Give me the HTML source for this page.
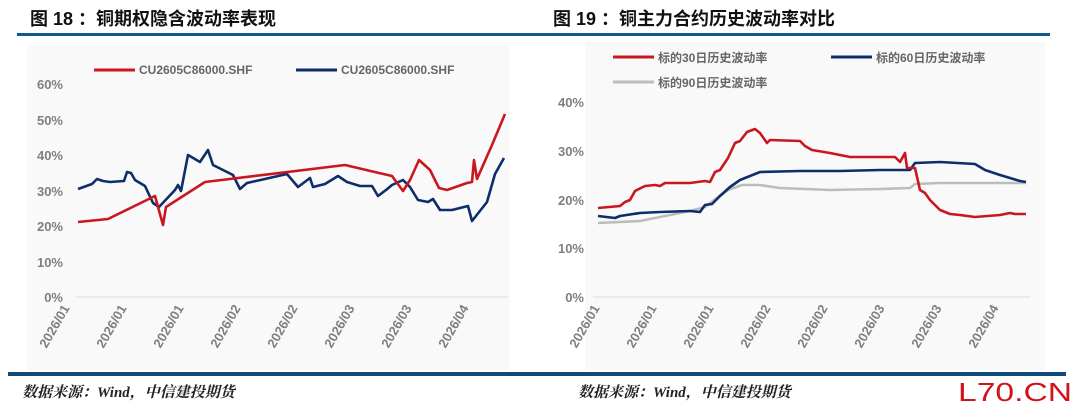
<!DOCTYPE html><html><head><meta charset="utf-8"><style>
body{margin:0;width:1080px;height:411px;background:#fff;overflow:hidden;font-family:"Liberation Sans","Noto Sans CJK SC",sans-serif}
</style></head><body>
<svg width="1080" height="411" xmlns="http://www.w3.org/2000/svg" font-family="Liberation Sans, Noto Sans CJK SC, sans-serif">
<rect x="27" y="45" width="483" height="325" fill="#f9f9f9"/>
<rect x="585" y="42" width="460" height="328" fill="#f9f9f9"/>
<text x="30" y="25" font-size="18" font-weight="bold" fill="#111">图 18 ：铜期权隐含波动率表现</text>
<text x="553" y="25" font-size="18" font-weight="bold" fill="#111">图 19 ：铜主力合约历史波动率对比</text>
<rect x="17" y="33" width="523" height="3" fill="#0f5a8c"/>
<rect x="540" y="33" width="510" height="3" fill="#0f5a8c"/>
<rect x="8" y="372" width="1058" height="4" fill="#0f4a78"/>
<text x="22" y="397" font-size="15" font-style="italic" font-weight="bold" font-family="Liberation Serif, Noto Serif CJK SC, serif" fill="#222">数据来源：Wind，中信建投期货</text>
<text x="578" y="397" font-size="15" font-style="italic" font-weight="bold" font-family="Liberation Serif, Noto Serif CJK SC, serif" fill="#222">数据来源：Wind，中信建投期货</text>
<text x="958" y="401" font-size="26" fill="#d0121b" textLength="114" lengthAdjust="spacingAndGlyphs">L70.CN</text>
<g font-size="13" fill="#7f7f7f" font-weight="bold" text-anchor="end">
<text x="63" y="89">60%</text><text x="63" y="125">50%</text><text x="63" y="160">40%</text><text x="63" y="196">30%</text><text x="63" y="231">20%</text><text x="63" y="267">10%</text><text x="63" y="302">0%</text>
<text x="584" y="107">40%</text><text x="584" y="156">30%</text><text x="584" y="205">20%</text><text x="584" y="253">10%</text><text x="584" y="302">0%</text>
</g>
<line x1="76" y1="297" x2="508" y2="297" stroke="#ddd"/>
<line x1="593" y1="297" x2="1030" y2="297" stroke="#ddd"/>
<g font-size="13" fill="#7f7f7f" font-weight="bold" text-anchor="end">
<g transform="translate(70,308) rotate(-60)"><text>2026/01</text></g>
<g transform="translate(127,308) rotate(-60)"><text>2026/01</text></g>
<g transform="translate(184,308) rotate(-60)"><text>2026/01</text></g>
<g transform="translate(241,308) rotate(-60)"><text>2026/02</text></g>
<g transform="translate(298,308) rotate(-60)"><text>2026/02</text></g>
<g transform="translate(355,308) rotate(-60)"><text>2026/03</text></g>
<g transform="translate(412,308) rotate(-60)"><text>2026/03</text></g>
<g transform="translate(469,308) rotate(-60)"><text>2026/04</text></g>
<g transform="translate(600,308) rotate(-60)"><text>2026/01</text></g>
<g transform="translate(657,308) rotate(-60)"><text>2026/01</text></g>
<g transform="translate(714,308) rotate(-60)"><text>2026/01</text></g>
<g transform="translate(771,308) rotate(-60)"><text>2026/02</text></g>
<g transform="translate(828,308) rotate(-60)"><text>2026/02</text></g>
<g transform="translate(885,308) rotate(-60)"><text>2026/03</text></g>
<g transform="translate(942,308) rotate(-60)"><text>2026/03</text></g>
<g transform="translate(999,308) rotate(-60)"><text>2026/04</text></g>
</g>
<g font-size="12" fill="#666" font-weight="bold">
<line x1="94" y1="70" x2="135" y2="70" stroke="#c8171e" stroke-width="3"/><text x="139" y="74">CU2605C86000.SHF</text>
<line x1="296" y1="70" x2="337" y2="70" stroke="#0e2d6b" stroke-width="3"/><text x="341" y="74">CU2605C86000.SHF</text>
<line x1="613" y1="57" x2="654" y2="57" stroke="#c8171e" stroke-width="3"/><text x="658" y="62">标的30日历史波动率</text>
<line x1="831" y1="57" x2="872" y2="57" stroke="#0e2d6b" stroke-width="3"/><text x="876" y="62">标的60日历史波动率</text>
<line x1="613" y1="82" x2="654" y2="82" stroke="#bdbdbd" stroke-width="3"/><text x="658" y="87">标的90日历史波动率</text>
</g>
<g fill="none" stroke-width="2.6" stroke-linejoin="round">
<polyline stroke="#0e2d6b" points="78,189 92,184 97,179 103,181 110,182 124,181 127,172 131,173 135,180 145,186 153,203 159,207 175,190 178,185 181,191 188,155 200,162 208,150 213,165 223,170 233,175 240,189 247,183 287,174 298,187 310,178 313,187 325,184 338,176 347,182 360,186 372,186 378,196 386,190 392,185 403,180 410,187 418,200 428,202 433,199 440,210 452,210 468,206 472,221 487,202 495,174 504,158"/>
<polyline stroke="#c8171e" points="78,222 108,219 155,196 163,225 166,207 205,182 345,165 392,176 403,191 410,180 419,160 430,170 439,188 447,190 467,183 472,182 474,160 477,179 492,145 505,114"/>
<polyline stroke="#bdbdbd" points="598,223 640,221 690,211 705,207 718,197 728,190 742,185 760,185 780,188 830,190 880,189 910,188 915,184 940,183 1026,183"/>
<polyline stroke="#0e2d6b" points="598,216 615,218 620,216 640,213 660,212 690,211 700,212 705,205 712,204 720,196 730,187 740,180 760,172 800,171 840,171 880,170 910,170 915,163 940,162 975,164 985,170 1000,175 1010,178 1020,181 1026,182"/>
<polyline stroke="#c8171e" points="598,208 620,206 625,202 630,200 635,191 645,186 655,185 660,186 665,183 690,183 705,181 710,182 715,172 720,170 728,158 735,143 740,141 747,132 755,129 760,133 767,143 770,140 800,141 805,146 812,150 830,153 850,157 895,157 900,162 905,153 907,168 915,168 920,190 925,193 930,200 940,210 950,214 960,215 975,217 1000,215 1010,213 1015,214 1026,214"/>
</g>
</svg>
</body></html>
